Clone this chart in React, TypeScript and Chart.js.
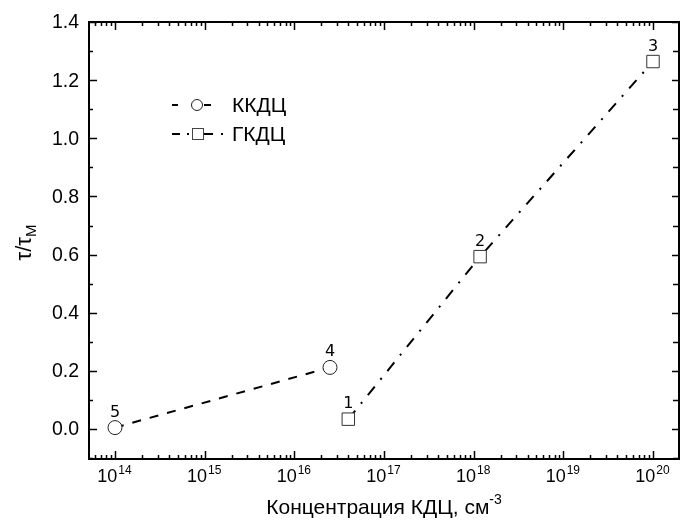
import { useEffect, useRef } from "react";
import { Chart, registerables } from "chart.js";

Chart.register(...registerables);

// ККДЦ series (circles, dashed line)
const kkdcConc = [1.0e14, 2.5e16];
const kkdcRatio = [0.005, 0.212];
const kkdcLabels = ["5", "4"];

// ГКДЦ series (squares, dash-dot line)
const gkdcConc = [4.0e16, 1.18e18, 1.0e20];
const gkdcRatio = [0.034, 0.593, 1.264];
const gkdcLabels = ["1", "2", "3"];

// axis ticks
const yMajorTicks = [0, 0.2, 0.4, 0.6, 0.8, 1.0, 1.2, 1.4];
const yTickLabels = ["0.0", "0.2", "0.4", "0.6", "0.8", "1.0", "1.2", "1.4"];
const yMinorTicks = [-0.1, 0.1, 0.3, 0.5, 0.7, 0.9, 1.1, 1.3];
const xDecades = [14, 15, 16, 17, 18, 19, 20];

const X_MIN = 5.13e13;
const X_MAX = 1.95e20;
const Y_MIN = -0.103;
const Y_MAX = 1.4;

const SANS = "'Liberation Sans', Arial, sans-serif";

const framePlugin = {
  id: "frameAndLabels",
  afterDraw(chart: any) {
    const ctx = chart.ctx as CanvasRenderingContext2D;
    const { left, right, top, bottom } = chart.chartArea;
    const xs = chart.scales.x;
    const ys = chart.scales.y;
    ctx.save();
    ctx.strokeStyle = "#000";
    ctx.fillStyle = "#000";

    // frame
    ctx.lineWidth = 2;
    ctx.strokeRect(left, top, right - left, bottom - top);

    // y ticks (inward on both sides)
    ctx.lineWidth = 1.5;
    const tickLine = (x1: number, y1: number, x2: number, y2: number) => {
      ctx.beginPath();
      ctx.moveTo(x1, y1);
      ctx.lineTo(x2, y2);
      ctx.stroke();
    };
    yMajorTicks.forEach((v) => {
      const y = Math.round(ys.getPixelForValue(v)) + 0.5;
      tickLine(left, y, left + 8, y);
      tickLine(right, y, right - 7, y);
    });
    yMinorTicks.forEach((v) => {
      const y = Math.round(ys.getPixelForValue(v)) + 0.5;
      tickLine(left, y, left + 4, y);
      tickLine(right, y, right - 6, y);
    });

    // x ticks (log, inward on bottom and top)
    for (let d = 13; d <= 20; d++) {
      for (let m = 1; m <= 9; m++) {
        const v = m * Math.pow(10, d);
        if (v < X_MIN || v > X_MAX) continue;
        const x = Math.round(xs.getPixelForValue(v)) + 0.5;
        const len = m === 1 ? 8 : 4;
        tickLine(x, bottom, x, bottom - len);
        tickLine(x, top, x, top + len);
      }
    }

    // y tick labels
    ctx.font = `19.5px ${SANS}`;
    ctx.textAlign = "right";
    ctx.textBaseline = "middle";
    yMajorTicks.forEach((v, i) => {
      ctx.fillText(yTickLabels[i], left - 10, ys.getPixelForValue(v) + 1);
    });

    // x tick labels: 10^n
    ctx.textBaseline = "alphabetic";
    ctx.textAlign = "left";
    xDecades.forEach((d) => {
      const x = xs.getPixelForValue(Math.pow(10, d));
      ctx.font = `18px ${SANS}`;
      const wBase = ctx.measureText("10").width;
      ctx.font = `12px ${SANS}`;
      const wExp = ctx.measureText(String(d)).width;
      const x0 = x - (wBase + wExp) / 2 - 1;
      ctx.font = `18px ${SANS}`;
      ctx.fillText("10", x0, bottom + 23);
      ctx.font = `12px ${SANS}`;
      ctx.fillText(String(d), x0 + wBase + 1, bottom + 15);
    });

    // x axis title
    const titleMain = "Концентрация КДЦ, см";
    const titleExp = "-3";
    ctx.font = `21px ${SANS}`;
    const wMain = ctx.measureText(titleMain).width;
    ctx.font = `14px ${SANS}`;
    const wSup = ctx.measureText(titleExp).width;
    const tx0 = (left + right) / 2 - (wMain + wSup) / 2;
    ctx.font = `21px ${SANS}`;
    ctx.fillText(titleMain, tx0, bottom + 55);
    ctx.font = `14px ${SANS}`;
    ctx.fillText(titleExp, tx0 + wMain, bottom + 45);

    // y axis title: τ/τ_M
    ctx.save();
    ctx.translate(31, (top + bottom) / 2 + 2);
    ctx.rotate(-Math.PI / 2);
    ctx.font = `22px ${SANS}`;
    const wTau = ctx.measureText("τ/τ").width;
    ctx.font = `15px ${SANS}`;
    const wM = ctx.measureText("M").width;
    const ty0 = -(wTau + wM) / 2;
    ctx.font = `22px ${SANS}`;
    ctx.fillText("τ/τ", ty0, 0);
    ctx.font = `15px ${SANS}`;
    ctx.fillText("M", ty0 + wTau, 5);
    ctx.restore();

    // point number labels
    ctx.font = "16px 'DejaVu Sans', Verdana, sans-serif";
    ctx.textAlign = "center";
    ctx.textBaseline = "alphabetic";
    const labelSeries = (conc: number[], vals: number[], labels: string[]) => {
      conc.forEach((c, i) => {
        const px = xs.getPixelForValue(c);
        const py = ys.getPixelForValue(vals[i]);
        ctx.fillText(labels[i], px, py - 11);
      });
    };
    labelSeries(kkdcConc, kkdcRatio, kkdcLabels);
    labelSeries(gkdcConc, gkdcRatio, gkdcLabels);

    // legend
    ctx.lineWidth = 2;
    ctx.strokeStyle = "#000";
    const seg = (x1: number, x2: number, y: number) => tickLine(x1, y, x2, y);
    const l1 = 105;
    const l2 = 134;
    seg(172, 178, l1);
    seg(204, 211, l1);
    ctx.lineWidth = 1;
    ctx.strokeStyle = "#222";
    ctx.beginPath();
    ctx.arc(197, l1, 5.5, 0, Math.PI * 2);
    ctx.stroke();

    ctx.lineWidth = 2;
    ctx.strokeStyle = "#000";
    seg(172, 180, l2);
    seg(204, 213, l2);
    ctx.fillRect(187, l2 - 1, 2, 2);
    ctx.fillRect(221, l2 - 1, 2, 2);
    ctx.lineWidth = 1;
    ctx.strokeStyle = "#444";
    ctx.strokeRect(192.5, l2 - 5.5, 11, 11);

    ctx.fillStyle = "#000";
    ctx.font = `21px ${SANS}`;
    ctx.textAlign = "left";
    ctx.textBaseline = "alphabetic";
    ctx.fillText("ККДЦ", 232, l1 + 7);
    ctx.fillText("ГКДЦ", 232, l2 + 7);

    ctx.restore();
  },
};

export default function App() {
  const canvasRef = useRef<HTMLCanvasElement | null>(null);

  useEffect(() => {
    const canvas = canvasRef.current;
    if (!canvas) return;
    const chart = new Chart(canvas, {
      type: "scatter",
      data: {
        datasets: [
          {
            label: "ККДЦ",
            data: kkdcConc.map((c, i) => ({ x: c, y: kkdcRatio[i] })),
            showLine: true,
            borderColor: "#000",
            borderWidth: 2,
            borderDash: [9, 9],
            pointStyle: "circle",
            pointRadius: 7,
            pointBackgroundColor: "#fff",
            pointBorderColor: "#222",
            pointBorderWidth: 1,
          },
          {
            label: "ГКДЦ",
            data: gkdcConc.map((c, i) => ({ x: c, y: gkdcRatio[i] })),
            showLine: true,
            borderColor: "#000",
            borderWidth: 2,
            borderDash: [11, 9, 2, 9],
            pointStyle: "rect",
            pointRadius: 8.8,
            pointBackgroundColor: "#fff",
            pointBorderColor: "#333",
            pointBorderWidth: 1,
          },
        ],
      },
      options: {
        animation: false,
        responsive: false,
        events: [],
        layout: { padding: { left: 89, top: 22, right: 10, bottom: 65 } },
        scales: {
          x: { type: "logarithmic", min: X_MIN, max: X_MAX, display: false },
          y: { type: "linear", min: Y_MIN, max: Y_MAX, display: false },
        },
        plugins: {
          legend: { display: false },
          tooltip: { enabled: false },
        },
        elements: { line: { tension: 0 } },
        clip: false as any,
      },
      plugins: [framePlugin],
    });
    return () => chart.destroy();
  }, []);

  return (
    <div style={{ position: "absolute", left: 0, top: 0, width: 689, height: 524, background: "#fff" }}>
      <canvas ref={canvasRef} width={689} height={524} style={{ display: "block" }} />
    </div>
  );
}
